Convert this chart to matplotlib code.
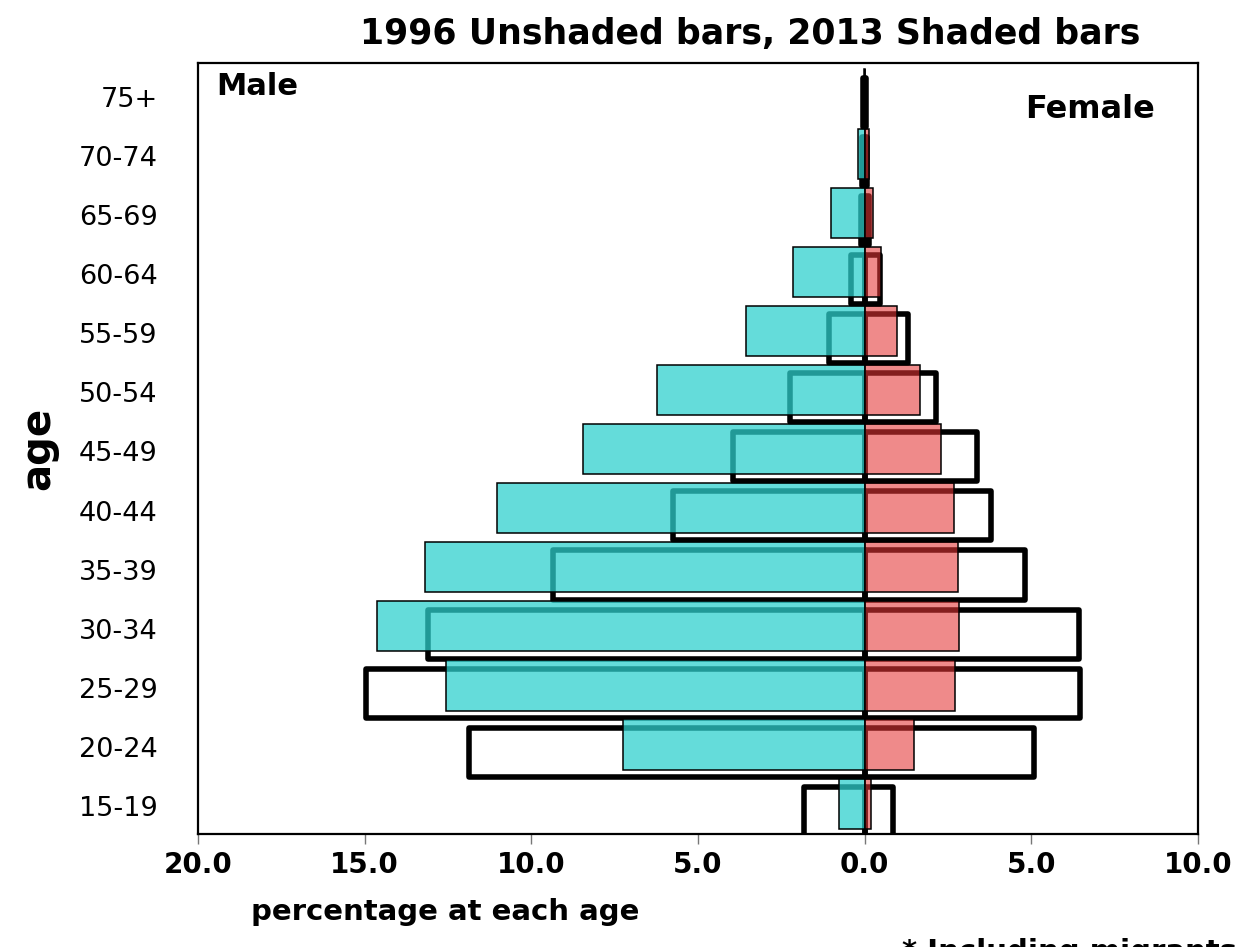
import numpy as np
import matplotlib
matplotlib.use("Agg")
import matplotlib.pyplot as plt

ages = ["15-19", "20-24", "25-29", "30-34", "35-39", "40-44", "45-49",
        "50-54", "55-59", "60-64", "65-69", "70-74", "75+"]

# 2013 (shaded bars)
male_2013 = [0.77, 7.24, 12.55, 14.62, 13.2, 11.04, 8.46, 6.22, 3.57, 2.15, 1.02, 0.21, 0.03]
female_2013 = [0.18, 1.48, 2.71, 2.84, 2.81, 2.69, 2.29, 1.66, 0.98, 0.48, 0.24, 0.12, 0.02]

# 1996 (unshaded bars)
male_1996 = [1.83, 11.88, 14.96, 13.1, 9.35, 5.75, 3.94, 2.23, 1.08, 0.42, 0.12, 0.08, 0.04]
female_1996 = [0.85, 5.08, 6.47, 6.44, 4.82, 3.8, 3.36, 2.13, 1.3, 0.47, 0.12, 0.06, 0.04]

xticks = [-20, -15, -10, -5, 0, 5, 10]

male_col = (46/255, 208/255, 205/255, 0.74)
female_col = (229/255, 53/255, 53/255, 0.58)

fig = plt.figure(figsize=(12.5, 9.47), dpi=100)
ax = fig.add_axes([0.1584, 0.1193, 0.8, 0.8142])

y = np.arange(len(ages))

# unshaded 1996 outlines, drawn underneath
ax.barh(y - 0.09, -np.array(male_1996), height=0.83, fill=False,
        edgecolor="black", linewidth=4, joinstyle="round", zorder=2)
ax.barh(y - 0.09, female_1996, height=0.83, fill=False,
        edgecolor="black", linewidth=4, joinstyle="round", zorder=2)

# shaded 2013 bars on top, semi transparent
ax.barh(y + 0.04, -np.array(male_2013), height=0.85, color=male_col,
        edgecolor="black", linewidth=1.1, zorder=3)
ax.barh(y + 0.04, female_2013, height=0.85, color=female_col,
        edgecolor="black", linewidth=1.1, zorder=3)

ax.set_xlim(-20, 10)
ax.set_ylim(-0.474, 12.575)
ax.set_xticks(xticks)
ax.set_xticklabels([f"{abs(v):.1f}" for v in xticks], fontsize=20, fontweight="bold")
ax.set_yticks(y)
ax.set_yticklabels(ages, fontsize=19.5)
ax.tick_params(axis="y", length=0, pad=29)
ax.tick_params(axis="x", direction="out", length=7, width=1, color="#777777", pad=5)
for s in ax.spines.values():
    s.set_linewidth(1.6)
    s.set_color("black")

ax.text(0.018, 0.988, "Male", transform=ax.transAxes, fontsize=22,
        fontweight="bold", va="top", ha="left")
ax.text(0.957, 0.96, "Female", transform=ax.transAxes, fontsize=23,
        fontweight="bold", va="top", ha="right")

fig.text(0.6, 0.964, "1996 Unshaded bars, 2013 Shaded bars", fontsize=25,
         fontweight="bold", ha="center", va="center")
fig.text(0.356, 0.037, "percentage at each age", fontsize=21,
         fontweight="bold", ha="center", va="center")
fig.text(0.0304, 0.527, "age", fontsize=29, fontweight="bold",
         rotation=90, ha="center", va="center")
fig.text(0.722, 0.009, "* Including migrants", fontsize=21,
         fontweight="bold", ha="left", va="top")

fig.savefig("out.png", dpi=100)
